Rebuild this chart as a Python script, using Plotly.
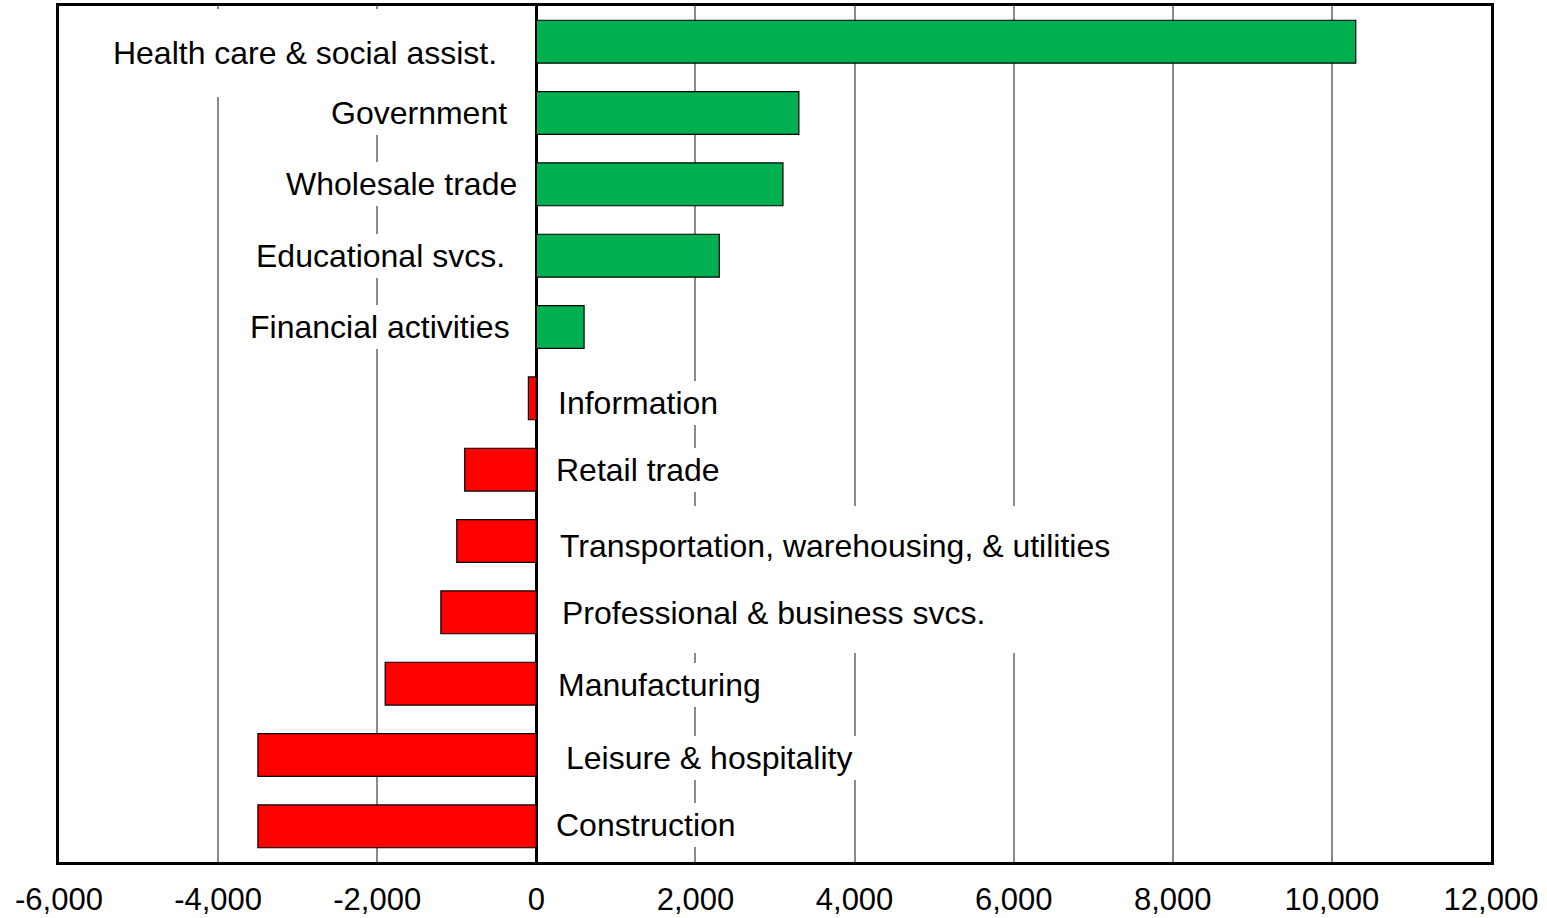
import plotly.graph_objects as go

# ---- data ----
categories = [
    "Health care & social assist.",
    "Government",
    "Wholesale trade",
    "Educational svcs.",
    "Financial activities",
    "Information",
    "Retail trade",
    "Transportation, warehousing, & utilities",
    "Professional & business svcs.",
    "Manufacturing",
    "Leisure & hospitality",
    "Construction",
]
values = [10300, 3300, 3100, 2300, 600, -100, -900, -1000, -1200, -1900, -3500, -3500]
tick_vals = [-6000, -4000, -2000, 0, 2000, 4000, 6000, 8000, 10000, 12000]
tick_text = ["-6,000", "-4,000", "-2,000", "0", "2,000", "4,000", "6,000", "8,000", "10,000", "12,000"]

# ---- label placement (style, not data) ----
label_x = [-2903, -314, -188, -339, -276, 226, 201, 251, 276, 226, 327, 201]
label_anchor = ["center", "right", "right", "right", "right",
                "left", "left", "left", "left", "left", "left", "left"]
label_yshift = [-11, 0, 0, 0, 0, -5, 0, -5, -1, -1, -3, 1]
label_w = [400, None, None, None, None, None, None, None, 452, None, None, None]
label_h = [80, None, None, None, None, None, None, 72, 72, None, None, None]

FONT = "Liberation Sans, Arial, sans-serif"
GREEN = "#00B050"
RED = "#FF0000"

colors = [GREEN if v >= 0 else RED for v in values]

fig = go.Figure()
fig.add_trace(go.Bar(
    y=categories, x=values, orientation="h",
    marker=dict(color=colors, line=dict(color="black", width=1.2)),
    width=0.6, showlegend=False, hoverinfo="x+y",
))

for i, cat in enumerate(categories):
    ann = dict(
        x=label_x[i], y=cat, xref="x", yref="y",
        text=cat, showarrow=False,
        xanchor=label_anchor[i], yanchor="middle",
        yshift=label_yshift[i],
        font=dict(family=FONT, size=32, color="black"),
        bgcolor="white", borderpad=4, borderwidth=0,
        align=label_anchor[i],
        valign="middle",
    )
    if label_w[i] is not None:
        ann["width"] = label_w[i]
    if label_h[i] is not None:
        ann["height"] = label_h[i]
    fig.add_annotation(**ann)

fig.update_layout(
    width=1547, height=918,
    margin=dict(l=59, r=56, t=6, b=56, autoexpand=False),
    paper_bgcolor="white", plot_bgcolor="white",
    font=dict(family=FONT, size=31, color="black"),
)
fig.update_xaxes(
    range=[-6000, 12000], autorange=False, automargin=False,
    tickvals=tick_vals, ticktext=tick_text,
    showgrid=True, gridcolor="#8a8a8a", gridwidth=1.5,
    zeroline=True, zerolinecolor="black", zerolinewidth=3,
    showline=True, linecolor="black", linewidth=3, mirror=True,
    ticks="", ticklabelstandoff=8,
    tickfont=dict(family=FONT, size=31, color="black"),
)
fig.update_yaxes(
    range=[len(categories) - 0.5, -0.5], autorange=False, automargin=False,
    showticklabels=False, showgrid=False,
    showline=True, linecolor="black", linewidth=3, mirror=True,
    ticks="", zeroline=False,
)

fig.write_html(
    "out.html",
    config={"displayModeBar": False},
    post_script="document.body.style.margin='0';document.body.style.overflow='hidden';",
)
